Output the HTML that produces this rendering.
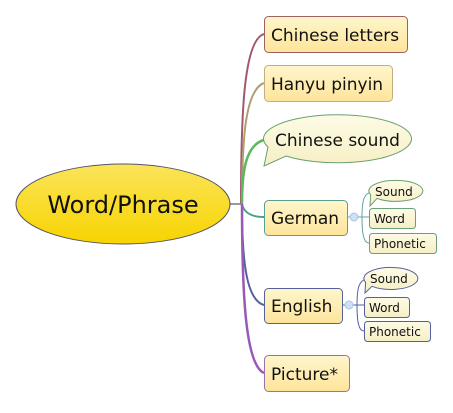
<!DOCTYPE html>
<html><head><style>
html,body{margin:0;padding:0;background:#fff;}
svg text{font-family:"DejaVu Sans","Liberation Sans",sans-serif;fill:#111;}
</style></head><body>
<svg width="453" height="408" viewBox="0 0 453 408" xmlns="http://www.w3.org/2000/svg">
<defs>
<linearGradient id="y" x1="0" y1="0" x2="0" y2="1"><stop offset="0" stop-color="#fff6cc"/><stop offset="1" stop-color="#fde49a"/></linearGradient>
<linearGradient id="m" x1="0" y1="0" x2="0" y2="1"><stop offset="0" stop-color="#fbe45a"/><stop offset="1" stop-color="#f7d400"/></linearGradient>
<linearGradient id="s" x1="0" y1="0" x2="0" y2="1"><stop offset="0" stop-color="#fdfbe6"/><stop offset="1" stop-color="#f6efc4"/></linearGradient>
</defs>
<line x1="230" y1="204" x2="241" y2="204" stroke="#333" stroke-width="1"/>
<path d="M241,204 C241,120 243,40 264,34" fill="none" stroke="#a05a6a" stroke-width="2"/>
<path d="M242,204 C242,140 245,90 264,83" fill="none" stroke="#b0a070" stroke-width="2"/>
<path d="M242,204 C242,170 246,145 264,140" fill="none" stroke="#5cb85c" stroke-width="2.5"/>
<path d="M242,204 C244,214 254,217 264,217" fill="none" stroke="#4aa090" stroke-width="2"/>
<path d="M242,204 C242,260 246,300 264,305" fill="none" stroke="#5560a0" stroke-width="2"/>
<path d="M242,204 C242,300 246,365 264,373" fill="none" stroke="#9b59b6" stroke-width="2.5"/>
<ellipse cx="123" cy="204" rx="107" ry="40" fill="url(#m)" stroke="#556" stroke-width="1"/>
<text x="123" y="213" font-size="24" text-anchor="middle">Word/Phrase</text>
<rect x="264.5" y="16.5" width="143" height="36" rx="4" fill="url(#y)" stroke="#a06060"/>
<text x="271" y="41" font-size="17">Chinese letters</text>
<rect x="264.5" y="65.5" width="128" height="36" rx="4" fill="url(#y)" stroke="#c0b080"/>
<text x="271" y="90" font-size="17">Hanyu pinyin</text>
<path d="M268,147 L264,166 L286,156 A74,24 0 1 0 268,147 Z" fill="url(#s)" stroke="#6aa070"/>
<text x="275" y="146" font-size="17">Chinese sound</text>
<rect x="264.5" y="200.5" width="83" height="35" rx="4" fill="url(#y)" stroke="#5aa090"/>
<text x="271" y="224" font-size="17">German</text>
<rect x="264.5" y="288.5" width="78" height="35" rx="4" fill="url(#y)" stroke="#5560a0"/>
<text x="271" y="312" font-size="17">English</text>
<rect x="264.5" y="355.5" width="85" height="36" rx="4" fill="url(#y)" stroke="#9b70b0"/>
<text x="271" y="380" font-size="17">Picture*</text>
<path d="M347,217 L350,217 M358,217 L369,217 M362,217 C362,200 364,193 372,192 M362,217 C362,235 364,243 369,243" fill="none" stroke="#6aa0a0"/>
<circle cx="354" cy="217" r="4" fill="#cde0f5" stroke="#a8c4e8"/>
<path d="M370.6,194.6 L370,206 L377,198.4 A27,10.5 0 1 0 370.6,194.6 Z" fill="url(#s)" stroke="#6aa070"/>
<text x="375" y="196" font-size="12">Sound</text>
<rect x="369.5" y="208.5" width="46" height="20" rx="3" fill="url(#s)" stroke="#6aa080"/>
<text x="374" y="223" font-size="12">Word</text>
<rect x="369.5" y="233.5" width="67" height="20" rx="3" fill="url(#s)" stroke="#6aa080"/>
<text x="374" y="248" font-size="12">Phonetic</text>
<path d="M342,305 L345,305 M353,305 L364,305 M357,305 C357,288 359,280 367,279 M357,305 C357,323 359,331 364,331" fill="none" stroke="#5560a0"/>
<circle cx="349" cy="305" r="4" fill="#cde0f5" stroke="#a8c4e8"/>
<path d="M365.6,282.3 L365,293 L372,286.3 A27,11 0 1 0 365.6,282.3 Z" fill="url(#s)" stroke="#5560a0"/>
<text x="370" y="283" font-size="12">Sound</text>
<rect x="364.5" y="297.5" width="45" height="20" rx="3" fill="url(#s)" stroke="#5560a0"/>
<text x="369" y="312" font-size="12">Word</text>
<rect x="364.5" y="321.5" width="66" height="20" rx="3" fill="url(#s)" stroke="#5560a0"/>
<text x="369" y="336" font-size="12">Phonetic</text>
</svg>
</body></html>
